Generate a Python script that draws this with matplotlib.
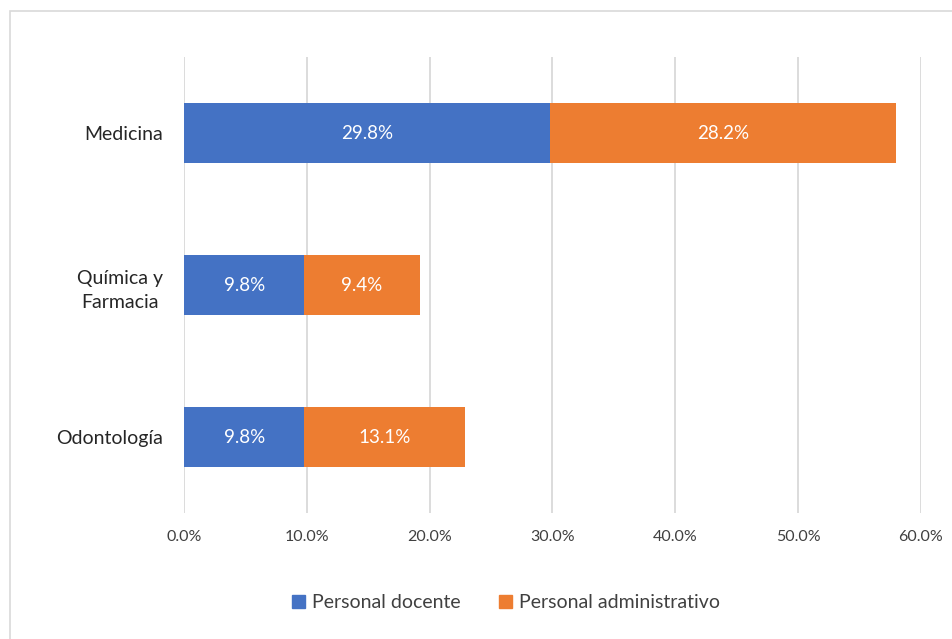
import matplotlib.pyplot as plt
from matplotlib.patches import Patch, Rectangle

plt.rcParams['font.family'] = ['Lato', 'DejaVu Sans']

categorias = ["Medicina", "Química y\nFarmacia", "Odontología"]
docente = [29.8, 9.8, 9.8]
administrativo = [28.2, 9.4, 13.1]
ticks = [0, 10, 20, 30, 40, 50, 60]

azul = "#4472C4"
naranja = "#ED7D31"

fig = plt.figure(figsize=(9.53, 6.39), dpi=100)
# marco gris del area del grafico
fig.patches.append(Rectangle((10 / 953, -0.1), 1.2, 1 - 11 / 639 + 0.1,
                             transform=fig.transFigure, fill=False,
                             edgecolor="#D9D9D9", linewidth=1.2))

ax = fig.add_axes([184 / 953, 1 - 513 / 639, (921 - 184) / 953, (513 - 57) / 639])

y = list(range(len(categorias)))
b1 = ax.barh(y, docente, height=0.4, color=azul, zorder=3)
b2 = ax.barh(y, administrativo, left=docente, height=0.4, color=naranja, zorder=3)

for barras, vals in ((b1, docente), (b2, administrativo)):
    for rect, v in zip(barras, vals):
        ax.text(rect.get_x() + rect.get_width() / 2, rect.get_y() + rect.get_height() / 2,
                f"{v:.1f}%", ha="center", va="center", color="white", fontsize=13.5, zorder=4)

ax.set_xlim(0, 60)
ax.set_ylim(len(categorias) - 0.5, -0.5)
ax.set_xticks(ticks)
ax.set_xticklabels([f"{t:.1f}%" for t in ticks], fontsize=11.5, color="#404040")
ax.set_yticks(y)
ax.set_yticklabels(categorias, fontsize=14, color="#262626",
                   multialignment="center", linespacing=1.55)
ax.tick_params(length=0)
ax.tick_params(axis="x", pad=12)
ax.tick_params(axis="y", pad=15)
ax.grid(axis="x", color="#D9D9D9", linewidth=1.3, zorder=0)
for s in ax.spines.values():
    s.set_visible(False)

fig.legend(handles=[Patch(color=azul, label="Personal docente"),
                    Patch(color=naranja, label="Personal administrativo")],
           loc="center", bbox_to_anchor=(0.531, 1 - 603 / 639), ncol=2, frameon=False,
           fontsize=14, handlelength=0.65, handleheight=0.65, handletextpad=0.35,
           columnspacing=2.0, labelcolor="#404040")

fig.savefig("out.png", dpi=100)
